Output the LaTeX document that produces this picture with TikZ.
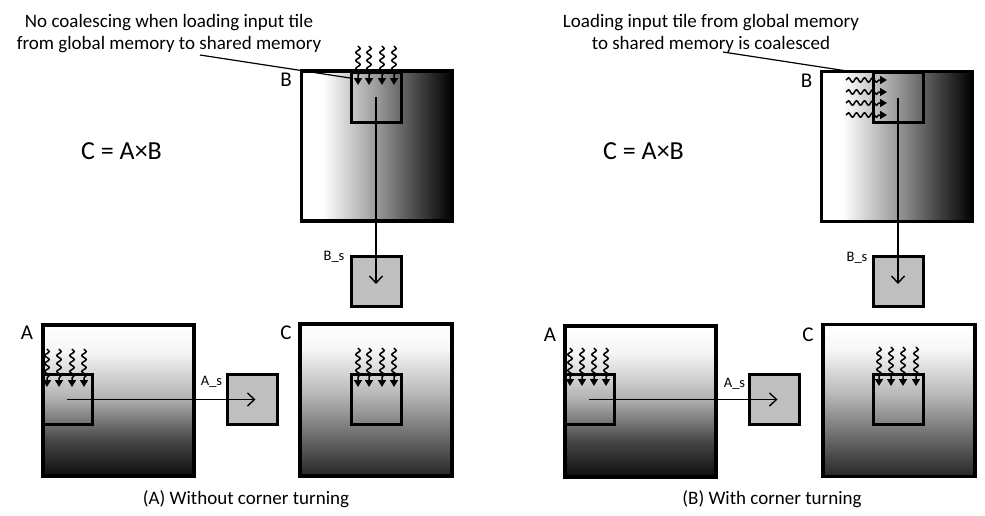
\documentclass[tikz,border=0pt]{standalone}
\usepackage{fontspec}
\setmainfont{Carlito}
\usetikzlibrary{arrows.meta,decorations.pathmorphing}

\pgfdeclarehorizontalshading{bshade}{100bp}{color(0bp)=(white); color(25bp)=(white); color(32bp)=(white); color(50bp)=(black!40); color(63bp)=(black!72); color(75bp)=(black); color(100bp)=(black)}
\pgfdeclareverticalshading{ashade}{100bp}{color(0bp)=(black!95); color(25bp)=(black!95); color(37bp)=(black!72); color(51bp)=(black!30); color(66bp)=(black!4); color(75bp)=(white); color(100bp)=(white)}
\pgfdeclareverticalshading{cshade}{100bp}{color(0bp)=(black!85); color(25bp)=(black!85); color(38bp)=(black!58); color(52bp)=(black!28); color(67bp)=(black!3); color(75bp)=(white); color(100bp)=(white)}

\begin{document}
\begin{tikzpicture}[x=1pt,y=-1pt,
  bigbox/.style={draw=black, line width=3.5pt, inner sep=0pt, minimum width=151pt, minimum height=150pt},
  tilebox/.style={draw=black, line width=3pt, inner sep=0pt, minimum size=50pt},
  smem/.style={tilebox, fill=black!25},
  wavy/.style={line width=1.5pt, -{Triangle[length=7pt,width=8pt]}, decorate, decoration={snake, amplitude=2.2pt, segment length=8pt, post length=7pt}},
  flow/.style={line width=1.4pt, -{Straight Barb[length=7pt,width=13pt]}, shorten >=-3pt},
  leader/.style={line width=1.2pt},
  mlabel/.style={font=\fontsize{21}{24}\selectfont, inner sep=0pt},
  slabel/.style={font=\fontsize{14.5}{16}\selectfont, inner sep=0pt},
  title/.style={font=\fontsize{19}{22.5}\selectfont, align=center, inner sep=0pt},
  eqn/.style={font=\fontsize{26}{29}\selectfont, inner sep=0pt},
  caption/.style={font=\fontsize{19}{22}\selectfont, inner sep=0pt}
]
\useasboundingbox (0,0) rectangle (985,515);

% ===================== Left panel =====================
\node[title, anchor=base] (T1) at (169,49.5) {No coalescing when loading input tile\\from global memory to shared memory};
\node[eqn] (E1) at (121.5,151) {C = A×B};

\node[bigbox, shading=bshade] (B1) at (377,146) {};
\node[tilebox] (Bt1) at (376,97) {};
\node[mlabel] (LB1) at (286,80) {B};
\node[smem] (Bs1) at (376,281) {};
\node[slabel] (LBs1) at (334,257) {B\_s};

\node[bigbox, minimum width=152pt, minimum height=152pt, shading=cshade] (C1) at (376,400) {};
\node[tilebox] (Ct1) at (376,399) {};
\node[mlabel] (LC1) at (286,333) {C};

\node[bigbox, minimum width=151pt, minimum height=151pt, shading=ashade] (A1) at (118.5,400.5) {};
\node[tilebox] (At1) at (67,399.5) {};
\node[mlabel] (LA1) at (27,333) {A};
\node[smem] (As1) at (252.5,399.5) {};
\node[slabel] (LAs1) at (211.5,382) {A\_s};

\node[caption] (Cap1) at (246,499) {(A) Without corner turning};

% leader
\coordinate (l1s) at (200,55);
\coordinate (l1e) at (350,78);
\draw[leader] (l1s) -- (l1e);

% flows
\draw[flow] (Bt1.center) -- (Bs1.center);
\draw[flow] (At1.center) -- (As1.center);

% wavy arrows
\foreach \x [count=\i] in {358,369,382,394}{
  \coordinate (wb1s\i) at (\x,46); \coordinate (wb1e\i) at (\x,85);
  \draw[wavy] (wb1s\i) -- (wb1e\i);
  \coordinate (wc1s\i) at (\x,348); \coordinate (wc1e\i) at (\x,387);
  \draw[wavy] (wc1s\i) -- (wc1e\i);
}
\foreach \x [count=\i] in {47,59,72,84}{
  \coordinate (wa1s\i) at (\x,349); \coordinate (wa1e\i) at (\x,387);
  \draw[wavy] (wa1s\i) -- (wa1e\i);
}

% ===================== Right panel =====================
\node[title, anchor=base] (T2) at (711,49.5) {Loading input tile from global memory\\to shared memory is coalesced};
\node[eqn] (E2) at (643.5,151) {C = A×B};

\node[bigbox, shading=bshade] (B2) at (897,146.5) {};
\node[tilebox] (Bt2) at (898,97.5) {};
\node[mlabel] (LB2) at (806.5,81) {B};
\node[smem] (Bs2) at (898,281) {};
\node[slabel] (LBs2) at (857,258) {B\_s};

\node[bigbox, minimum width=152pt, minimum height=152pt, shading=cshade] (C2) at (899,400.5) {};
\node[tilebox] (Ct2) at (898.5,399.5) {};
\node[mlabel] (LC2) at (808,335) {C};

\node[bigbox, minimum width=151pt, minimum height=151pt, shading=ashade] (A2) at (640.5,401.5) {};
\node[tilebox] (At2) at (589,399.5) {};
\node[mlabel] (LA2) at (550,335) {A};
\node[smem] (As2) at (774.5,399.5) {};
\node[slabel] (LAs2) at (734.5,384) {A\_s};

\node[caption] (Cap2) at (772,499) {(B) With corner turning};

% leader
\coordinate (l2s) at (723,52);
\coordinate (l2e) at (847,71);
\draw[leader] (l2s) -- (l2e);

% flows
\draw[flow] (Bt2.center) -- (Bs2.center);
\draw[flow] (At2.center) -- (As2.center);

% wavy arrows
\foreach \y [count=\i] in {80,92,103,115}{
  \coordinate (wb2s\i) at (846,\y); \coordinate (wb2e\i) at (887,\y);
  \draw[wavy] (wb2s\i) -- (wb2e\i);
}
\foreach \x [count=\i] in {879,891,903,916}{
  \coordinate (wc2s\i) at (\x,347); \coordinate (wc2e\i) at (\x,386);
  \draw[wavy] (wc2s\i) -- (wc2e\i);
}
\foreach \x [count=\i] in {570,582,594,606}{
  \coordinate (wa2s\i) at (\x,348); \coordinate (wa2e\i) at (\x,386);
  \draw[wavy] (wa2s\i) -- (wa2e\i);
}
\end{tikzpicture}
\end{document}
